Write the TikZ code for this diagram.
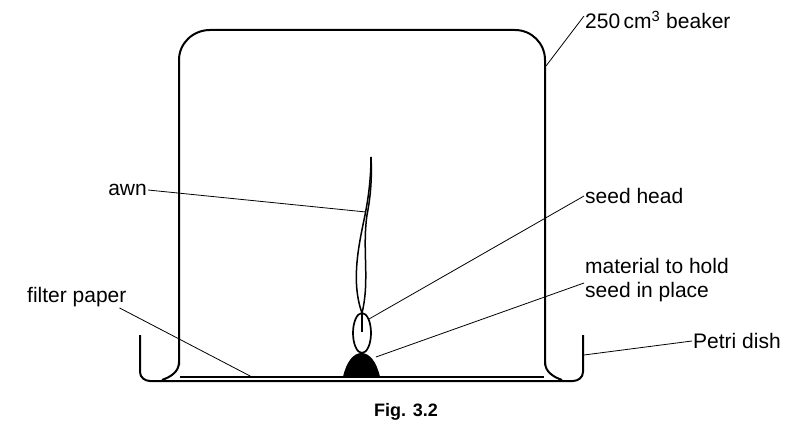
\documentclass[tikz,border=0pt]{standalone}
\usepackage{fontspec}
\setmainfont{Liberation Sans}
\begin{document}
\begin{tikzpicture}[x=1pt,y=-1pt,
	every node/.style = {font=\fontsize{21}{24}\selectfont, inner sep=1pt},
	wall/.style = {line width=2pt, line join=round},
	leader/.style = {line width=0.8pt}
	]
	\useasboundingbox (0,0) rectangle (811,438);
	
	% Beaker
	\draw[wall] (179,365) -- (179,60) to[out=90,in=180] (210,30) -- (515,30) to[out=0,in=90] (545,60) -- (545,365);
	\draw[wall] (179,362) to[out=-90,in=20] (162,380);
	\draw[wall] (545,362) to[out=-90,in=160] (562,380);
	
	% Petri dish
	\draw[wall] (140,335) -- (140,372) to[out=-90,in=180] (150,381) -- (573,381) to[out=0,in=-90] (583,372) -- (583,335);
	
	% Filter paper
	\draw[line width=1.8pt] (180,377) -- (544,377);
	
	% Seed
	\fill (343,377) .. controls (350,345) and (373,345) .. (380,377) -- cycle;
	\draw[line width=1.7pt] (362,333) ellipse (9 and 20);
	\draw[line width=1.5pt] (362,332) -- (362,312);
	\draw[line width=1.5pt] (362,313) .. controls (350,280) and (360,240) .. (365,215) .. controls (369,195) and (371,175) .. (371,157);
	\draw[line width=1.5pt] (362,313) .. controls (370,280) and (362,250) .. (367,215) .. controls (371,195) and (372,175) .. (371,157);
	
	% Labels
	\node[anchor=west] (beaker) at (584,20) {250\,cm\textsuperscript{3} beaker};
	\node[anchor=east] (awn) at (148,190) {awn};
	\node[anchor=west] (head) at (584,196) {seed head};
	\node[anchor=west, align=left] (material) at (584,280) {material to hold\\seed in place};
	\node[anchor=west] (paper) at (26,297) {filter paper};
	\node[anchor=west] (petri) at (692,341) {Petri dish};
	\node[font=\fontsize{18}{21}\selectfont\bfseries] (fig) at (406,412) {Fig. 3.2};
	
	% Leaders
	\coordinate (bk) at (546,66);
	\coordinate (aw) at (366,212);
	\coordinate (sh) at (369,319);
	\coordinate (mt) at (376,357);
	\coordinate (fp) at (252,377);
	\coordinate (pd) at (584,355);
	\draw[leader] (bk) -- ([yshift=4pt]beaker.west);
	\draw[leader] (awn.east) -- (aw);
	\draw[leader] (head.west) -- (sh);
	\draw[leader] ([yshift=-3pt]material.west) -- (mt);
	\draw[leader] ([xshift=-8pt]paper.south east) -- (fp);
	\draw[leader] (petri.west) -- (pd);
\end{tikzpicture}
\end{document}
